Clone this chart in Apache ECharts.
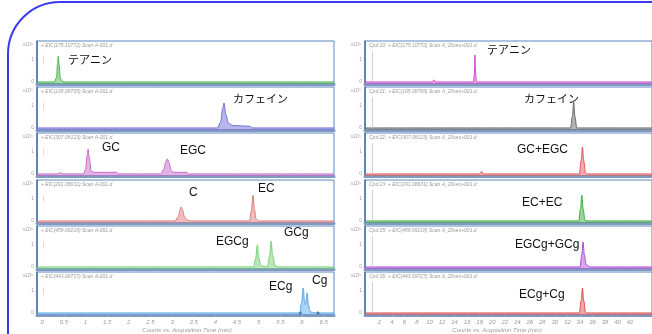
<!DOCTYPE html>
<html><head><meta charset="utf-8">
<script src="https://cdn.jsdelivr.net/npm/echarts@6/dist/echarts.min.js"></script>
<style>html,body{margin:0;padding:0;background:#fff}#c{width:652px;height:334px}</style>
</head><body><div id="c"></div>
<script>
// Extracted-ion chromatograms of tea components.
// Left: individual standards (time in min); right: 20-second method run.
// Each trace is a list of [time, relative intensity] points.

const leftTicks = [0, 0.5, 1, 1.5, 2, 2.5, 3, 3.5, 4, 4.5, 5, 5.5, 6, 6.5];
const rightTicks = [2, 4, 6, 8, 10, 12, 14, 16, 18, 20, 22, 24, 26, 28, 30, 32, 34, 36, 38, 40, 42];

const leftTitles = [
  '+ EIC(175.10772) Scan A-001.d',
  '+ EIC(195.08765) Scan A-001.d',
  '+ EIC(307.08123) Scan A-001.d',
  '+ EIC(291.08631) Scan A-001.d',
  '+ EIC(459.09218) Scan A-001.d',
  '+ EIC(443.09727) Scan A-001.d'
];
const rightTitles = [
  'Cpd 20: + EIC(175.10772) Scan A_20sec+001.d',
  'Cpd 21: + EIC(195.08765) Scan A_20sec+001.d',
  'Cpd 22: + EIC(307.08123) Scan A_20sec+001.d',
  'Cpd 23: + EIC(291.08631) Scan A_20sec+001.d',
  'Cpd 25: + EIC(459.09218) Scan A_20sec+001.d',
  'Cpd 26: + EIC(443.09727) Scan A_20sec+001.d'
];

// standards
const theanineStd = [[-0.12,0],[0.28,0],[0.33,0.1],[0.355,0.45],[0.37,0.63],[0.39,0.42],[0.42,0.08],[0.47,0.01],[0.55,0],[6.74,0]];
const caffeineStd = [[-0.12,0],[4.05,0],[4.12,0.14],[4.17,0.48],[4.2,0.61],[4.24,0.34],[4.3,0.12],[4.4,0.06],[4.8,0.04],[4.84,0],[6.74,0]];
const gcEgcStd = [[-0.12,0],[0.36,0],[0.42,0.03],[0.48,0],[0.95,0],[1.0,0.1],[1.04,0.45],[1.06,0.61],[1.09,0.38],[1.13,0.07],[1.2,0.04],[1.72,0.04],[1.75,0],
  [2.74,0],[2.81,0.12],[2.86,0.31],[2.89,0.37],[2.93,0.27],[2.98,0.08],[3.05,0.04],[3.34,0.04],[3.37,0],[6.74,0]];
const cEcStd = [[-0.12,0],[3.07,0],[3.14,0.1],[3.19,0.29],[3.21,0.34],[3.24,0.27],[3.29,0.09],[3.36,0.02],[3.45,0],
  [4.79,0],[4.83,0.25],[4.87,0.63],[4.9,0.3],[4.94,0.05],[5.0,0],[6.74,0]];
const egcgGcgStd = [[-0.12,0],[4.88,0],[4.93,0.2],[4.97,0.54],[5.0,0.24],[5.05,0.03],[5.2,0],[5.25,0.25],[5.29,0.63],[5.32,0.28],[5.38,0.03],[5.45,0],[6.74,0]];
const ecgCgStd = [[-0.12,0],[5.95,0],[5.99,0.25],[6.03,0.61],[6.06,0.26],[6.08,0.2],[6.12,0.49],[6.15,0.2],[6.19,0.03],[6.3,0],[6.74,0]];
const ecgCgMarks = [[5.96,0],[6.37,0]];

// 20-second method
const theanineRun = [[-0.3,0],[10.4,0],[10.7,0.05],[11.0,0],[17.0,0],[17.15,0.2],[17.25,0.66],[17.35,0.2],[17.5,0],[45.5,0]];
const caffeineRun = [[-0.3,0],[32.5,0],[32.8,0.28],[33.0,0.63],[33.2,0.28],[33.5,0],[45.5,0]];
const gcEgcRun = [[-0.3,0],[18.0,0],[18.3,0.06],[18.6,0],[33.9,0],[34.2,0.33],[34.4,0.66],[34.6,0.33],[34.9,0.02],[35.2,0],[45.5,0]];
const ecRun = [[-0.3,0],[33.8,0],[34.1,0.3],[34.3,0.63],[34.5,0.3],[34.8,0.02],[35.1,0],[45.5,0]];
const egcgGcgRun = [[-0.3,0],[34.0,0],[34.3,0.3],[34.5,0.61],[34.7,0.3],[35.0,0.06],[35.4,0.02],[35.7,0],[45.5,0]];
const ecgCgRun = [[-0.3,0],[33.9,0],[34.2,0.3],[34.4,0.61],[34.6,0.3],[34.9,0.02],[35.2,0],[45.5,0]];

const leftTraces = [theanineStd, caffeineStd, gcEgcStd, cEcStd, egcgGcgStd, ecgCgStd];
const rightTraces = [theanineRun, caffeineRun, gcEgcRun, ecRun, egcgGcgRun, ecgCgRun];
const leftColors = ['#4cb84c', '#6f6fdc', '#c86ac8', '#e07c7c', '#74d474', '#5ea6e8'];
const rightColors = ['#d04cd0', '#6a6a6a', '#e05a5a', '#3cae3c', '#b04cd8', '#e05050'];

// peak names and where they sit
const peakLabels = [
  ['テアニン', 68, 60], ['カフェイン', 233, 99], ['GC', 102, 148], ['EGC', 180, 151],
  ['C', 189, 193], ['EC', 258, 189], ['EGCg', 216, 242], ['GCg', 284, 233],
  ['ECg', 269, 287], ['Cg', 312, 281],
  ['テアニン', 487, 50], ['カフェイン', 524, 99], ['GC+EGC', 517, 150], ['EC+EC', 522, 203],
  ['EGCg+GCg', 515, 245], ['ECg+Cg', 519, 295]
];

const rowTops = [41, 87, 133, 180, 226, 272];
const rowH = 43;

const grids = [], xAxes = [], yAxes = [], series = [], graphics = [];

// injT: time of the injection marker; injSpan: its vertical extent
function addPanel(traces, colors, titles, left, width, xMin, xMax, ticks, injT, injSpan, injColor) {
  traces.forEach((tr, i) => {
    const gi = grids.length;
    const last = i === traces.length - 1;
    grids.push({ left: left, top: rowTops[i], width: width, height: rowH, show: true,
      borderColor: '#5c84c2', borderWidth: 1, backgroundColor: '#fff' });
    xAxes.push({ gridIndex: gi, type: 'value', min: xMin, max: xMax,
      splitLine: { show: false },
      axisLine: { show: true, onZero: false, lineStyle: { color: '#8199c0', width: 3 } },
      axisTick: last ? { show: true, customValues: ticks, length: 2, lineStyle: { color: '#aaa' } } : { show: false },
      axisLabel: last ? { show: true, customValues: ticks, fontSize: 6, color: '#9a9a9a', margin: 4,
        fontStyle: 'italic', fontFamily: 'Liberation Sans' } : { show: false } });
    yAxes.push({ gridIndex: gi, type: 'value', min: -0.05, max: 1,
      splitLine: { show: false },
      axisLine: { show: true, onZero: false, lineStyle: { color: '#4a6faa', width: 1.5 } },
      axisTick: { show: false },
      name: 'x10⁵', nameLocation: 'end', nameGap: -6,
      nameTextStyle: { fontSize: 5, color: '#a0a0a0', align: 'right', padding: [0, 4, 0, 0], fontStyle: 'italic' },
      axisLabel: { customValues: [0, 0.55], formatter: v => (v === 0 ? '0' : '1'),
        fontSize: 5, color: '#a0a0a0', margin: 3 } });
    series.push({ type: 'line', xAxisIndex: gi, yAxisIndex: gi, data: tr, showSymbol: false,
      smooth: 0.35, smoothMonotone: 'x',
      lineStyle: { color: colors[i], width: 1 },
      areaStyle: { color: colors[i], opacity: 0.5, origin: 'start' },
      markLine: { silent: true, symbol: 'none', label: { show: false },
        lineStyle: { color: injColor, width: 1, type: 'solid' },
        data: [[{ coord: [injT, injSpan[0]] }, { coord: [injT, injSpan[1]] }]] } });
    graphics.push({ type: 'text', left: left + 4, top: rowTops[i] + 2,
      style: { text: titles[i], fontSize: 5, fill: '#9a9a9a', fontStyle: 'italic', fontFamily: 'Liberation Sans' } });
  });
}

addPanel(leftTraces, leftColors, leftTitles, 37, 297, -0.12, 6.74, leftTicks, 0.03, [0.45, 0.62], '#dcdcdc');
addPanel(rightTraces, rightColors, rightTitles, 365, 300, -0.3, 45.5, rightTicks, 0.9, [0, 0.75], '#cfcfcf');

// integration markers on the last standard trace
series.push({ type: 'scatter', xAxisIndex: 5, yAxisIndex: 5, data: ecgCgMarks,
  symbolSize: 3, itemStyle: { color: '#111' } });

peakLabels.forEach(p => {
  graphics.push({ type: 'text', x: p[1], y: p[2],
    style: { text: p[0], fontSize: /[A-Za-z]/.test(p[0]) ? 12 : 11,
      fontFamily: /[A-Za-z]/.test(p[0]) ? 'Liberation Sans' : 'Noto Sans CJK JP',
      fill: '#111', verticalAlign: 'middle' } });
});

['Counts vs. Acquisition Time (min)', 'Counts vs. Acquisition Time (min)'].forEach((t, i) => {
  graphics.push({ type: 'text', x: i === 0 ? 187 : 497, y: 330,
    style: { text: t, fontSize: 6, fill: '#9a9a9a', align: 'center', verticalAlign: 'middle',
      fontStyle: 'italic', fontFamily: 'Liberation Sans' } });
});

// rounded outer frame
graphics.push({ type: 'rect', shape: { x: 8, y: 2, width: 720, height: 420, r: [52, 0, 0, 0] },
  style: { fill: null, stroke: '#3a3af2', lineWidth: 2 }, z: 10 });

const chart = echarts.init(document.getElementById('c'));
chart.setOption({
  animation: false,
  grid: grids, xAxis: xAxes, yAxis: yAxes, series: series, graphic: graphics
});
</script>
</body></html>
